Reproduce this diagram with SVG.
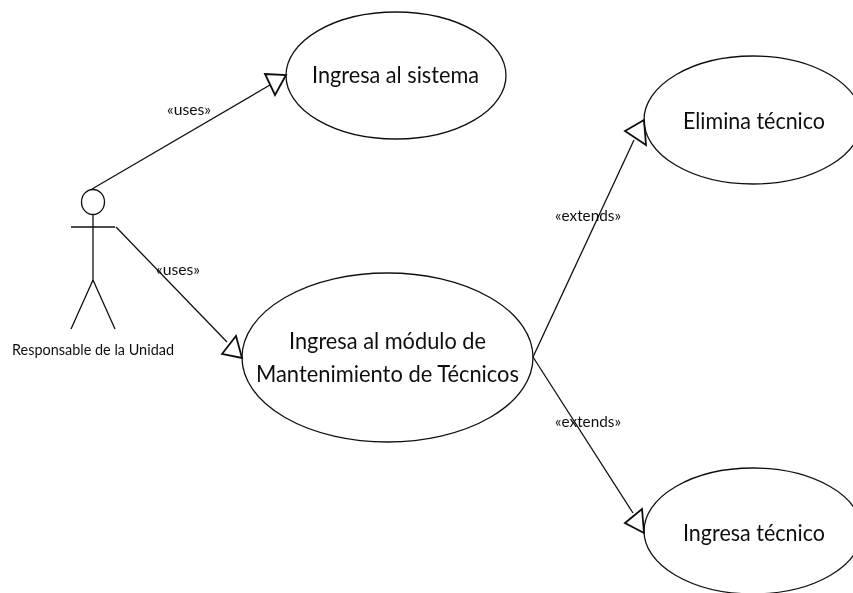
<svg xmlns="http://www.w3.org/2000/svg" width="853" height="593" viewBox="0 0 853 593">
<defs><filter id="soft" x="-5%" y="-5%" width="110%" height="110%"><feGaussianBlur stdDeviation="0.7"/></filter></defs>
<style>
.s{fill:none;stroke:#111;stroke-width:1.3}
.h{fill:none;stroke:#111;stroke-width:1.8}
.e{fill:#fff;stroke:#111;stroke-width:1.3}
text{font-family:Lato,"Liberation Sans",sans-serif;fill:#111}
.n{font-size:24px}
.l{font-size:14.5px}
</style>
<rect width="853" height="593" fill="#fff"/>
<g filter="url(#soft)">
<g id="uc-sistema">
<ellipse class="e" cx="396" cy="75.500" rx="110" ry="63.500"/>
<text class="n" x="312" y="83" textLength="167" lengthAdjust="spacingAndGlyphs">Ingresa al sistema</text>
</g>
<g id="uc-modulo">
<ellipse class="e" cx="387.500" cy="357.500" rx="145.500" ry="84.500"/>
<text class="n" x="289" y="349" textLength="197" lengthAdjust="spacingAndGlyphs">Ingresa al módulo de</text>
<text class="n" x="256" y="382" textLength="263" lengthAdjust="spacingAndGlyphs">Mantenimiento de Técnicos</text>
</g>
<g id="uc-elimina">
<ellipse class="e" cx="753" cy="120" rx="109" ry="64"/>
<text class="n" x="683" y="129" textLength="142" lengthAdjust="spacingAndGlyphs">Elimina técnico</text>
</g>
<g id="uc-ingresa">
<ellipse class="e" cx="753" cy="531" rx="109" ry="63"/>
<text class="n" x="683" y="541" textLength="142" lengthAdjust="spacingAndGlyphs">Ingresa técnico</text>
</g>
<g id="actor">
<ellipse class="s" cx="93" cy="202" rx="11.500" ry="12.500"/>
<path class="s" d="M93 215V280M71 227H115M93 280L71 329M93 280L115 329"/>
<text class="l" x="12" y="355" textLength="162" lengthAdjust="spacingAndGlyphs">Responsable de la Unidad</text>
</g>
<g id="connectors">
<path class="s" d="M92 189L270 85"/>
<polygon class="h" points="265,74 286,75 275,95"/>
<path class="s" d="M116 227L227 342"/>
<polygon class="h" points="222,354 236,336 242,358"/>
<path class="s" d="M533 357L634 140"/>
<polygon class="h" points="625,131 644,120 646,145"/>
<path class="s" d="M533 357L633 513"/>
<polygon class="h" points="625,523 642,509 644,533"/>
<text class="l" x="167" y="115" textLength="44" lengthAdjust="spacingAndGlyphs">«uses»</text>
<text class="l" x="156" y="275" textLength="44" lengthAdjust="spacingAndGlyphs">«uses»</text>
<text class="l" x="555" y="221" textLength="66" lengthAdjust="spacingAndGlyphs">«extends»</text>
<text class="l" x="555" y="427" textLength="66" lengthAdjust="spacingAndGlyphs">«extends»</text>
</g>
</g>
</svg>
